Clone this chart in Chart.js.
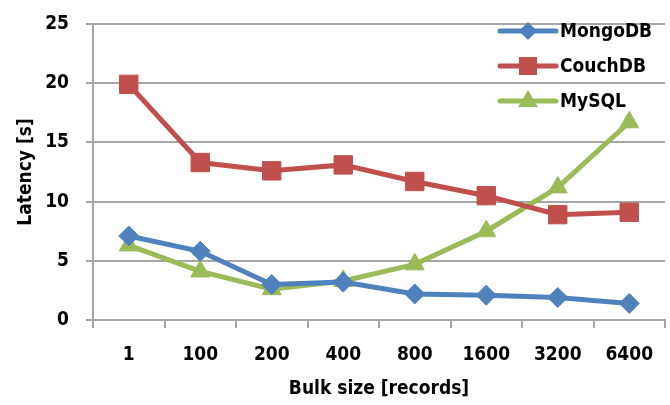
<!DOCTYPE html>
<html>
<head>
<meta charset="utf-8">
<script src="https://cdn.jsdelivr.net/npm/chart.js@4"></script>
<style>
  html, body { margin: 0; padding: 0; background: #fff; }
  #wrap { width: 670px; height: 405px; }
</style>
</head>
<body>
<div id="wrap"><canvas id="lineChart" width="670" height="405"></canvas></div>
<script>
// datos
var bulkSizes = ['1', '100', '200', '400', '800', '1600', '3200', '6400'];
var mongoDB = [7.1, 5.8, 3.0, 3.2, 2.2, 2.1, 1.9, 1.4];
var couchDB = [19.9, 13.3, 12.6, 13.1, 11.7, 10.5, 8.9, 9.1];
var mySQL = [6.3, 4.1, 2.6, 3.3, 4.7, 7.5, 11.2, 16.7];
var yTicks = [0, 5, 10, 15, 20, 25];

var FONT = '"Liberation Sans Narrow", "DejaVu Sans Condensed", sans-serif';
var GRID = '#a6a6a6';

// leyenda dentro del area del grafico, linea + marcador como en Excel
var insideLegend = {
  id: 'insideLegend',
  afterDraw: function(chart) {
    var ctx = chart.ctx;
    var x0 = 500, x1 = 556, y = 31;
    chart.data.datasets.forEach(function(ds, i) {
      var yy = y + i * 35;
      var cx = (x0 + x1) / 2;
      ctx.save();
      ctx.strokeStyle = ds.borderColor;
      ctx.lineWidth = 5;
      ctx.lineCap = 'round';
      ctx.beginPath();
      ctx.moveTo(x0, yy);
      ctx.lineTo(x1, yy);
      ctx.stroke();
      ctx.fillStyle = ds.borderColor;
      ctx.beginPath();
      if (ds.pointStyle === 'rectRot') {
        ctx.moveTo(cx - 9, yy); ctx.lineTo(cx, yy - 9);
        ctx.lineTo(cx + 9, yy); ctx.lineTo(cx, yy + 9);
      } else if (ds.pointStyle === 'rect') {
        ctx.rect(cx - 9, yy - 9, 18, 18);
      } else {
        ctx.moveTo(cx, yy - 11); ctx.lineTo(cx + 10, yy + 6); ctx.lineTo(cx - 10, yy + 6);
      }
      ctx.closePath();
      ctx.fill();
      ctx.fillStyle = '#000';
      ctx.font = 'bold 19px ' + FONT;
      ctx.textBaseline = 'middle';
      ctx.textAlign = 'left';
      ctx.fillText(ds.label, x1 + 4, yy + 1);
      ctx.restore();
    });
  }
};

var ctx = document.getElementById('lineChart').getContext('2d');
var myChart = new Chart(ctx, {
  type: 'line',
  data: {
    labels: bulkSizes,
    datasets: [{
      label: 'MongoDB',
      data: mongoDB,
      borderColor: '#4f81bd',
      backgroundColor: '#4f81bd',
      borderWidth: 5,
      pointStyle: 'rectRot',
      pointRadius: 10,
      pointBorderWidth: 1
    }, {
      label: 'CouchDB',
      data: couchDB,
      borderColor: '#c0504d',
      backgroundColor: '#c0504d',
      borderWidth: 5,
      pointStyle: 'rect',
      pointRadius: 13,
      pointBorderWidth: 1
    }, {
      label: 'MySQL',
      data: mySQL,
      borderColor: '#9bbb59',
      backgroundColor: '#9bbb59',
      borderWidth: 5,
      pointStyle: 'triangle',
      pointRadius: 11,
      pointBorderWidth: 1
    }]
  },
  options: {
    responsive: false,
    animation: false,
    layout: { autoPadding: false, padding: { left: 0, top: 24, right: 5, bottom: 0 } },
    plugins: {
      legend: { display: false },
      tooltip: { enabled: false }
    },
    scales: {
      x: {
        offset: true,
        grid: { offset: true, drawOnChartArea: false, color: GRID, lineWidth: 2, tickLength: 8 },
        border: { color: GRID, width: 2 },
        ticks: { color: '#000', font: { family: FONT, size: 19, weight: 'bold' }, padding: 16, maxRotation: 0 },
        title: { display: true, text: 'Bulk size [records]', color: '#000', font: { family: FONT, size: 19, weight: 'bold' }, padding: { top: 0, bottom: 5 } },
        afterFit: function(scale) {
          scale.height = 85;
          scale.paddingLeft = 0;
          scale.paddingRight = 0;
        }
      },
      y: {
        min: 0,
        max: 25,
        afterBuildTicks: function(scale) {
          scale.ticks = yTicks.map(function(v) { return { value: v }; });
        },
        grid: { color: GRID, lineWidth: 2, tickLength: 7 },
        border: { color: GRID, width: 2 },
        ticks: { color: '#000', font: { family: FONT, size: 19, weight: 'bold' }, padding: 17 },
        title: { display: true, text: 'Latency [s]', color: '#000', font: { family: FONT, size: 19, weight: 'bold' }, padding: { top: 15, bottom: 0 } },
        afterFit: function(scale) {
          scale.width = 93;
          scale.paddingTop = 0;
          scale.paddingBottom = 0;
        }
      }
    }
  },
  plugins: [insideLegend]
});
</script>
</body>
</html>
